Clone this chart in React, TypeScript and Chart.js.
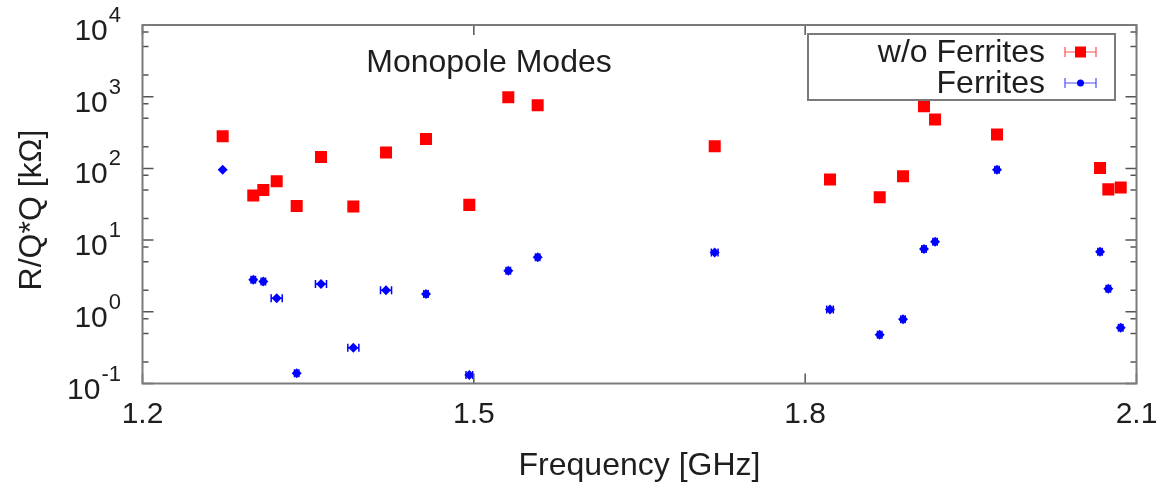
import { useEffect, useRef } from "react";
import { Chart, registerables } from "chart.js";

Chart.register(...registerables);

// Mode frequencies (GHz), shared by both measurement series
const frequencyGHz = [
  1.2726, 1.3003, 1.3094, 1.3215, 1.3396, 1.3616, 1.3909, 1.4205, 1.4567, 1.4959, 1.5312,
  1.5578, 1.7181, 1.8225, 1.8675, 1.8886, 1.9076, 1.9176, 1.9737, 2.067, 2.0745, 2.0857,
];

// R/Q*Q in kOhm without ferrites
const withoutFerrites = [
  280, 42, 50, 66, 30, 144, 29.4, 167, 257, 31, 980, 760, 203, 70, 39.6, 78, 736, 480, 296,
  101, 51, 54,
];

// R/Q*Q in kOhm with ferrites
const withFerrites = [
  96, 2.8, 2.65, 1.55, 0.139, 2.44, 0.314, 2.0, 1.77, 0.131, 3.74, 5.75, 6.7, 1.08, 0.48,
  0.79, 7.5, 9.5, 96, 6.9, 2.1, 0.6,
];

// Frequency uncertainty (GHz) of the ferrite-loaded modes
const ferriteFreqError = [
  0, 0.002, 0.002, 0.005, 0.002, 0.005, 0.005, 0.005, 0.002, 0.003, 0.002, 0.002, 0.003,
  0.003, 0.002, 0.002, 0.002, 0.002, 0.002, 0.002, 0.002, 0.002,
];

const xTicks = [1.2, 1.5, 1.8, 2.1];
const decadeExponents = [-1, 0, 1, 2, 3, 4];
const minorMantissas = [2, 5, 8];
const seriesLabels = ["w/o Ferrites", "Ferrites"];
const chartTitle = "Monopole Modes";
const xTitle = "Frequency [GHz]";
const yTitle = "R/Q*Q [kΩ]";

const FONT = '"Liberation Sans", Arial, Helvetica, sans-serif';
const RED = "#ff0000";
const BLUE = "#0000ff";
const TEXT = "#1e1e1e";
const FRAME = "#7a7a7a";

const decorations = {
  id: "decorations",
  beforeDatasetsDraw(chart: any) {
    const { ctx, scales } = chart;
    const x = scales.x;
    const y = scales.y;
    ctx.save();
    ctx.strokeStyle = BLUE;
    ctx.lineWidth = 1.5;
    frequencyGHz.forEach((f, i) => {
      const e = ferriteFreqError[i];
      if (!e) return;
      const x0 = x.getPixelForValue(f - e);
      const x1 = x.getPixelForValue(f + e);
      const py = y.getPixelForValue(withFerrites[i]);
      ctx.beginPath();
      ctx.moveTo(x0, py);
      ctx.lineTo(x1, py);
      ctx.moveTo(x0, py - 4);
      ctx.lineTo(x0, py + 4);
      ctx.moveTo(x1, py - 4);
      ctx.lineTo(x1, py + 4);
      ctx.stroke();
    });
    ctx.restore();
  },
  afterDraw(chart: any) {
    const { ctx, chartArea, scales } = chart;
    const x = scales.x;
    const y = scales.y;
    const { left, right, top, bottom } = chartArea;
    ctx.save();

    // y-axis ticks (decades and 2/5/8 minors), mirrored on the right edge
    ctx.strokeStyle = "#555";
    ctx.lineWidth = 1.5;
    decadeExponents.forEach((e) => {
      const base = Math.pow(10, e);
      const py = y.getPixelForValue(base);
      ctx.beginPath();
      ctx.moveTo(left, py);
      ctx.lineTo(left + 11, py);
      ctx.moveTo(right, py);
      ctx.lineTo(right - 11, py);
      ctx.stroke();
      minorMantissas.forEach((m) => {
        const v = m * base;
        if (v > y.max) return;
        const pm = y.getPixelForValue(v);
        ctx.beginPath();
        ctx.moveTo(left, pm);
        ctx.lineTo(left + 6, pm);
        ctx.moveTo(right, pm);
        ctx.lineTo(right - 6, pm);
        ctx.stroke();
      });
    });

    // x-axis ticks on bottom and top
    xTicks.forEach((t) => {
      const px = x.getPixelForValue(t);
      ctx.beginPath();
      ctx.moveTo(px, bottom);
      ctx.lineTo(px, bottom - 10);
      ctx.moveTo(px, top);
      ctx.lineTo(px, top + 10);
      ctx.stroke();
    });

    // plot frame
    ctx.strokeStyle = FRAME;
    ctx.lineWidth = 2;
    ctx.strokeRect(left, top, right - left, bottom - top);

    // x tick labels
    ctx.fillStyle = TEXT;
    ctx.font = `30px ${FONT}`;
    ctx.textAlign = "center";
    ctx.textBaseline = "middle";
    xTicks.forEach((t) => {
      ctx.fillText(t.toFixed(1), x.getPixelForValue(t), 415);
    });

    // y tick labels as powers of ten
    decadeExponents.forEach((e) => {
      const py = y.getPixelForValue(Math.pow(10, e));
      const sup = String(e);
      ctx.font = `22px ${FONT}`;
      const supW = ctx.measureText(sup).width;
      const labelRight = 121;
      ctx.textAlign = "left";
      ctx.textBaseline = "alphabetic";
      ctx.fillText(sup, labelRight - supW, py - 3);
      ctx.font = `30px ${FONT}`;
      ctx.textAlign = "right";
      ctx.fillText("10", labelRight - supW - 1, py + 15);
    });

    // axis titles
    ctx.font = `32px ${FONT}`;
    ctx.textAlign = "center";
    ctx.textBaseline = "middle";
    ctx.fillText(xTitle, (left + right) / 2, 466);
    ctx.save();
    ctx.translate(32, 210);
    ctx.rotate(-Math.PI / 2);
    ctx.fillText(yTitle, 0, 0);
    ctx.restore();

    // inner title
    ctx.textBaseline = "alphabetic";
    ctx.fillText(chartTitle, 489, 72);

    // legend box
    const bx = 808;
    const by = 34;
    const bw = 307;
    const bh = 66;
    ctx.fillStyle = "#ffffff";
    ctx.fillRect(bx, by, bw, bh);
    ctx.strokeStyle = FRAME;
    ctx.lineWidth = 2;
    ctx.strokeRect(bx, by, bw, bh);

    const rows = [
      { label: seriesLabels[0], color: RED, cy: 52, square: true },
      { label: seriesLabels[1], color: BLUE, cy: 83, square: false },
    ];
    rows.forEach((r) => {
      ctx.fillStyle = TEXT;
      ctx.font = `32px ${FONT}`;
      ctx.textAlign = "right";
      ctx.textBaseline = "middle";
      ctx.fillText(r.label, 1045, r.cy + 1);
      ctx.strokeStyle = r.color;
      ctx.globalAlpha = 0.7;
      ctx.lineWidth = 1.2;
      ctx.beginPath();
      ctx.moveTo(1065, r.cy);
      ctx.lineTo(1096, r.cy);
      ctx.moveTo(1065, r.cy - 5);
      ctx.lineTo(1065, r.cy + 5);
      ctx.moveTo(1096, r.cy - 5);
      ctx.lineTo(1096, r.cy + 5);
      ctx.stroke();
      ctx.globalAlpha = 1;
      ctx.fillStyle = r.color;
      if (r.square) {
        ctx.fillRect(1075, r.cy - 5.5, 11, 11);
      } else {
        ctx.beginPath();
        ctx.arc(1080.5, r.cy, 3.5, 0, Math.PI * 2);
        ctx.fill();
      }
    });

    ctx.restore();
  },
};

export default function App() {
  const canvasRef = useRef<HTMLCanvasElement | null>(null);

  useEffect(() => {
    const canvas = canvasRef.current;
    if (!canvas) return;
    const chart = new Chart(canvas, {
      type: "scatter",
      data: {
        datasets: [
          {
            label: seriesLabels[0],
            data: frequencyGHz.map((f, i) => ({ x: f, y: withoutFerrites[i] })),
            pointStyle: "rect",
            pointRadius: 8.5,
            backgroundColor: RED,
            borderWidth: 0,
            showLine: false,
          },
          {
            label: seriesLabels[1],
            data: frequencyGHz.map((f, i) => ({ x: f, y: withFerrites[i] })),
            pointStyle: "rectRot",
            pointRadius: 5,
            backgroundColor: BLUE,
            borderWidth: 0,
            showLine: false,
          },
        ],
      },
      options: {
        animation: false,
        responsive: true,
        maintainAspectRatio: false,
        layout: { padding: { left: 142.5, right: 25.5, top: 25, bottom: 103.5 } },
        scales: {
          x: { type: "linear", min: 1.2, max: 2.1, display: false },
          y: { type: "logarithmic", min: 0.1, max: 10000, display: false },
        },
        plugins: {
          legend: { display: false },
          tooltip: { enabled: false },
        },
      },
      plugins: [decorations],
    });
    return () => chart.destroy();
  }, []);

  return (
    <div
      style={{
        position: "fixed",
        left: 0,
        top: 0,
        width: 1162,
        height: 487,
        background: "#ffffff",
      }}
    >
      <canvas ref={canvasRef} />
    </div>
  );
}
